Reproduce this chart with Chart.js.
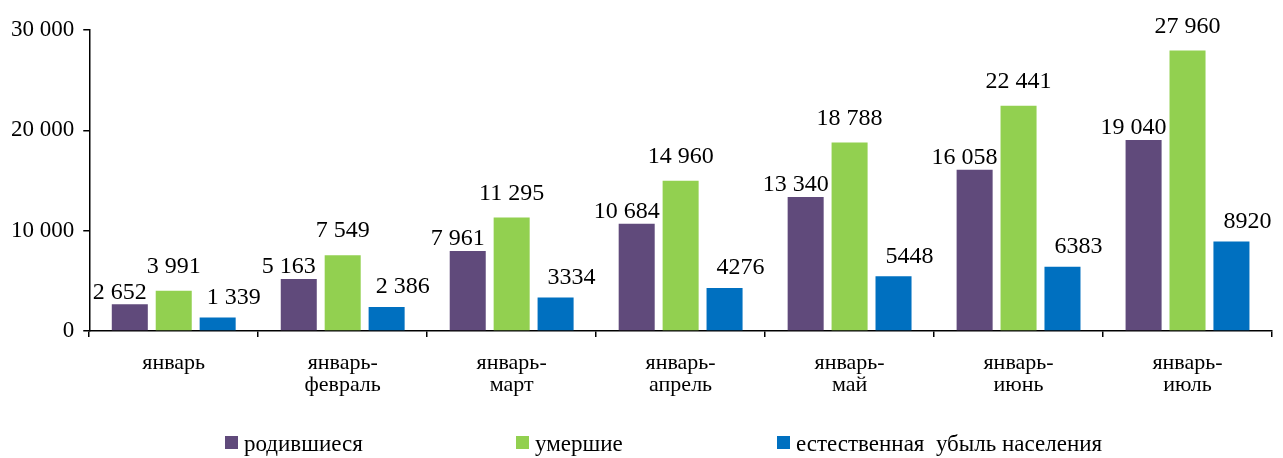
<!DOCTYPE html>
<html>
<head>
<meta charset="utf-8">
<script src="https://cdn.jsdelivr.net/npm/chart.js@4/dist/chart.umd.min.js"></script>
<style>
  html, body { margin: 0; padding: 0; background: #fff; }
  #wrap { position: relative; width: 1283px; height: 458px; }
  #legend { position: absolute; left: 0; top: 432px; width: 1283px; height: 26px;
            font-family: "Liberation Serif", "Times New Roman", serif; font-size: 23px; color: #000; }
  #legend .item { position: absolute; top: 0; white-space: nowrap; line-height: 23px; }
  #legend .box { display: inline-block; width: 13px; height: 13px; margin-right: 6px; vertical-align: 2px; }
</style>
</head>
<body>
<div id="wrap">
  <canvas id="chart" width="1283" height="458"></canvas>
  <div id="legend"></div>
</div>
<script>
    'use strict';

    var categories = [
        ["январь"],
        ["январь-", "февраль"],
        ["январь-", "март"],
        ["январь-", "апрель"],
        ["январь-", "май"],
        ["январь-", "июнь"],
        ["январь-", "июль"]
    ];
    var born = [2652, 5163, 7961, 10684, 13340, 16058, 19040];
    var died = [3991, 7549, 11295, 14960, 18788, 22441, 27960];
    var decline = [1339, 2386, 3334, 4276, 5448, 6383, 8920];
    // the blue labels lose the thousands space from march on
    var declinePlain = [false, false, true, true, true, true, true];
    var seriesNames = ["родившиеся", "умершие", "естественная  убыль населения"];
    var yTicks = [0, 10000, 20000, 30000];

    var colors = ["#604A7B", "#92D050", "#0070C0"];
    var labelShift = [[-10, 4], [0, 16], [16, 12]]; // [dx, gap above bar]
    var legendLeft = [225, 516, 777];
    var serif = "'Liberation Serif', 'Times New Roman', serif";

    function fmt(v, plain) {
        var s = String(v);
        if (plain) {
            return s;
        }
        return s.replace(/\B(?=(\d{3})+(?!\d))/g, " ");
    }

    var valueLabels = {
        id: 'valueLabels',
        afterDatasetsDraw: function (chart) {
            var ctx = chart.ctx;
            ctx.save();
            ctx.font = "24px " + serif;
            ctx.fillStyle = "#000";
            ctx.textAlign = "center";
            ctx.textBaseline = "bottom";
            chart.data.datasets.forEach(function (ds, di) {
                chart.getDatasetMeta(di).data.forEach(function (bar, i) {
                    var plain = di === 2 && declinePlain[i];
                    ctx.fillText(fmt(ds.data[i], plain), bar.x + labelShift[di][0], bar.y - labelShift[di][1] + 4);
                });
            });
            ctx.restore();
        }
    };

    var chart = new Chart(document.getElementById("chart"), {
        type: "bar",
        data: {
            labels: categories,
            datasets: [born, died, decline].map(function (d, i) {
                return {
                    label: seriesNames[i],
                    data: d,
                    backgroundColor: colors[i],
                    borderWidth: 0,
                    categoryPercentage: 0.78,
                    barPercentage: 0.82
                };
            })
        },
        options: {
            responsive: false,
            animation: false,
            layout: { padding: { top: 30, right: 11, bottom: 46, left: 2 } },
            plugins: {
                legend: { display: false },
                tooltip: { enabled: false }
            },
            scales: {
                x: {
                    grid: { display: true, drawOnChartArea: false, offset: true, color: "#000", tickLength: 6, lineWidth: 1.5 },
                    border: { color: "#000", width: 1.5 },
                    ticks: {
                        color: "#000",
                        padding: 16,
                        maxRotation: 0,
                        autoSkip: false,
                        font: { family: serif, size: 22, lineHeight: 0.98 }
                    }
                },
                y: {
                    min: 0,
                    max: 30000,
                    afterBuildTicks: function (axis) {
                        axis.ticks = yTicks.map(function (v) { return { value: v }; });
                    },
                    grid: { display: true, drawOnChartArea: false, color: "#000", tickLength: 6, lineWidth: 1.5 },
                    border: { color: "#000", width: 1.5 },
                    ticks: {
                        color: "#000",
                        padding: 9,
                        font: { family: serif, size: 23 },
                        callback: function (v) { return fmt(v, false); }
                    }
                }
            }
        },
        plugins: [valueLabels]
    });

    var legend = document.getElementById("legend");
    seriesNames.forEach(function (name, i) {
        var item = document.createElement("div");
        item.className = "item";
        item.style.left = legendLeft[i] + "px";
        item.innerHTML = '<span class="box" style="background:' + colors[i] + '"></span>' + name.replace(/  /g, " &nbsp;");
        legend.appendChild(item);
    });
</script>
</body>
</html>
